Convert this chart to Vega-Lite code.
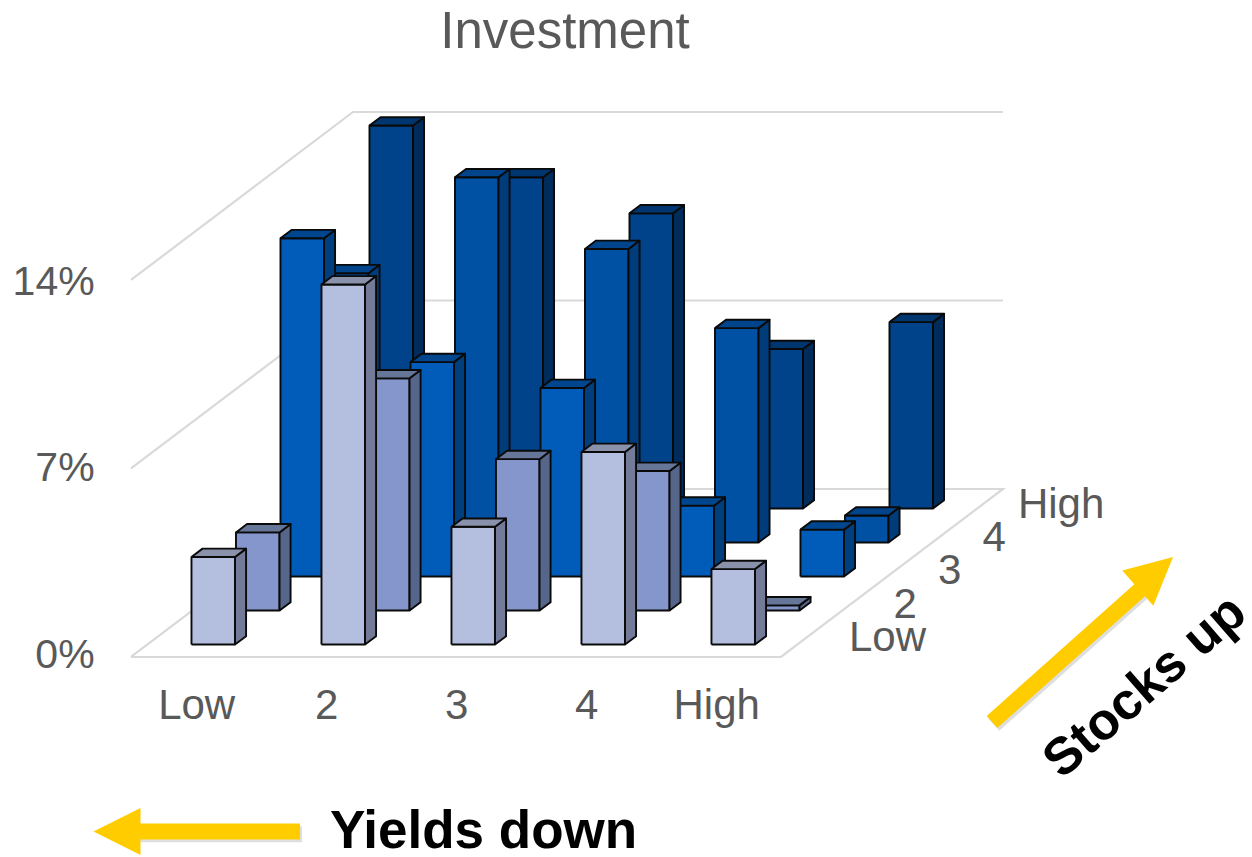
{
  "$schema": "https://vega.github.io/schema/vega-lite/v6.json",
  "width": 1252,
  "height": 857,
  "autosize": {"type": "none"},
  "padding": 0,
  "background": "white",
  "config": {"view": {"stroke": null}},
  "datasets": {
    "returns": [
      {"yields": "Low", "stocks": "High", "value": 14.22},
      {"yields": "2", "stocks": "High", "value": 12.3},
      {"yields": "3", "stocks": "High", "value": 10.96},
      {"yields": "4", "stocks": "High", "value": 5.92},
      {"yields": "High", "stocks": "High", "value": 6.92},
      {"yields": "Low", "stocks": "4", "value": 10.0},
      {"yields": "2", "stocks": "4", "value": 13.56},
      {"yields": "3", "stocks": "4", "value": 10.9},
      {"yields": "4", "stocks": "4", "value": 7.96},
      {"yields": "High", "stocks": "4", "value": 1.0},
      {"yields": "Low", "stocks": "3", "value": 12.56},
      {"yields": "2", "stocks": "3", "value": 7.96},
      {"yields": "3", "stocks": "3", "value": 7.0},
      {"yields": "4", "stocks": "3", "value": 2.63},
      {"yields": "High", "stocks": "3", "value": 1.74},
      {"yields": "Low", "stocks": "2", "value": 2.9},
      {"yields": "2", "stocks": "2", "value": 8.62},
      {"yields": "3", "stocks": "2", "value": 5.62},
      {"yields": "4", "stocks": "2", "value": 5.18},
      {"yields": "High", "stocks": "2", "value": 0.19},
      {"yields": "Low", "stocks": "Low", "value": 3.25},
      {"yields": "2", "stocks": "Low", "value": 13.37},
      {"yields": "3", "stocks": "Low", "value": 4.37},
      {"yields": "4", "stocks": "Low", "value": 7.15},
      {"yields": "High", "stocks": "Low", "value": 2.8}
    ],
    "levels": [{"level": 0}, {"level": 7}, {"level": 14}],
    "valueTicks": [
      {"label": "0%", "value": 0},
      {"label": "7%", "value": 7},
      {"label": "14%", "value": 14}
    ],
    "yieldTicks": [
      {"label": "Low"}, {"label": "2"}, {"label": "3"}, {"label": "4"}, {"label": "High"}
    ],
    "stockTicks": [
      {"label": "Low"}, {"label": "2"}, {"label": "3"}, {"label": "4"}
    ]
  },
  "encoding": {
    "x": {"field": "px", "type": "quantitative", "axis": null, "scale": {"domain": [-1.473, 8.158], "nice": false, "zero": false}},
    "y": {"field": "py", "type": "quantitative", "axis": null, "scale": {"domain": [-7.891, 23.932], "nice": false, "zero": false}}
  },
  "layer": [
    {
      "data": {"name": "levels"},
      "transform": [
        {"calculate": "datum.level === 0 ? [{s:0,t:0,i:0},{s:1,t:0,i:1},{s:1,t:1,i:2},{s:0,t:1,i:3},{s:0,t:0,i:4}] : [{s:0,t:0,i:0},{s:0,t:1,i:1},{s:1,t:1,i:2}]", "as": "pts"},
        {"flatten": ["pts"]},
        {"calculate": "-0.4654 + datum.pts.t * 1.7077 + datum.pts.s * 5", "as": "px"},
        {"calculate": "datum.level - 0.464 + datum.pts.t * 6.238", "as": "py"},
        {"calculate": "datum.pts.i", "as": "seq"}
      ],
      "mark": {"type": "line", "stroke": "#d9d9d9", "strokeWidth": 2.2, "interpolate": "linear"},
      "encoding": {
        "detail": {"field": "level", "type": "nominal"},
        "order": {"field": "seq", "type": "quantitative"}
      }
    },
    {
      "data": {"name": "returns"},
      "transform": [
        {"calculate": "indexof(['Low','2','3','4','High'], datum.yields)", "as": "col"},
        {"calculate": "indexof(['Low','2','3','4','High'], datum.stocks)", "as": "row"},
        {"calculate": "[{f:'front',i:0,u:0,d:0,h:0},{f:'front',i:1,u:1,d:0,h:0},{f:'front',i:2,u:1,d:0,h:1},{f:'front',i:3,u:0,d:0,h:1},{f:'front',i:4,u:0,d:0,h:0},{f:'side',i:0,u:1,d:0,h:0},{f:'side',i:1,u:1,d:1,h:0},{f:'side',i:2,u:1,d:1,h:1},{f:'side',i:3,u:1,d:0,h:1},{f:'side',i:4,u:1,d:0,h:0},{f:'top',i:0,u:0,d:0,h:1},{f:'top',i:1,u:1,d:0,h:1},{f:'top',i:2,u:1,d:1,h:1},{f:'top',i:3,u:0,d:1,h:1},{f:'top',i:4,u:0,d:0,h:1}]", "as": "pts"},
        {"flatten": ["pts"]},
        {"calculate": "datum.col + datum.row * 0.3423 + datum.pts.u * 0.335 + datum.pts.d * 0.085", "as": "px"},
        {"calculate": "datum.row * 1.2626 + datum.pts.d * 0.31 + datum.pts.h * datum.value", "as": "py"},
        {"calculate": "datum.stocks + ' ' + datum.pts.f", "as": "shade"},
        {"calculate": "datum.stocks + '/' + datum.yields + '/' + datum.pts.f", "as": "face"},
        {"calculate": "datum.pts.i", "as": "seq"}
      ],
      "mark": {"type": "line", "stroke": "#0a0a0a", "strokeWidth": 1.9, "strokeJoin": "round", "interpolate": "linear"},
      "encoding": {
        "detail": {"field": "face", "type": "nominal"},
        "order": {"field": "seq", "type": "quantitative"},
        "fill": {
          "field": "shade",
          "type": "nominal",
          "legend": null,
          "scale": {
            "domain": ["Low front", "Low side", "Low top", "2 front", "2 side", "2 top", "3 front", "3 side", "3 top", "4 front", "4 side", "4 top", "High front", "High side", "High top"],
            "range": ["#b4bfdf", "#737b98", "#8a92ab", "#8496cc", "#56658a", "#667699", "#005cb8", "#003f7e", "#00468f", "#0050a3", "#003c7a", "#00458c", "#00438a", "#002c5c", "#00366f"]
          }
        }
      }
    },
    {
      "data": {"name": "valueTicks"},
      "transform": [
        {"calculate": "-0.745", "as": "px"},
        {"calculate": "datum.value * 0.99 - 0.42", "as": "py"}
      ],
      "mark": {"type": "text", "align": "right", "baseline": "middle", "font": "Liberation Sans", "fontSize": 41, "fill": "#595959"},
      "encoding": {"text": {"field": "label"}}
    },
    {
      "data": {"name": "yieldTicks"},
      "transform": [
        {"calculate": "indexof(['Low','2','3','4','High'], datum.label) + 0.04", "as": "px"},
        {"calculate": "-2.3", "as": "py"}
      ],
      "mark": {"type": "text", "align": "center", "baseline": "middle", "font": "Liberation Sans", "fontSize": 42, "fill": "#595959"},
      "encoding": {"text": {"field": "label"}}
    },
    {
      "data": {"name": "stockTicks"},
      "transform": [
        {"calculate": "5.058 + indexof(['Low','2','3','4','High'], datum.label) * 0.3423", "as": "px"},
        {"calculate": "0.24 + indexof(['Low','2','3','4','High'], datum.label) * 1.244", "as": "py"}
      ],
      "mark": {"type": "text", "align": "left", "baseline": "middle", "font": "Liberation Sans", "fontSize": 42, "fill": "#595959"},
      "encoding": {"text": {"field": "label"}}
    },
    {
      "data": {"values": [{"label": "High"}]},
      "transform": [
        {"calculate": "6.357", "as": "px"},
        {"calculate": "5.19", "as": "py"}
      ],
      "mark": {"type": "text", "align": "left", "baseline": "middle", "font": "Liberation Sans", "fontSize": 42, "fill": "#595959"},
      "encoding": {"text": {"field": "label"}}
    },
    {
      "data": {"values": [{"label": "Investment"}]},
      "transform": [
        {"calculate": "2.873", "as": "px"},
        {"calculate": "22.72", "as": "py"}
      ],
      "mark": {"type": "text", "align": "center", "baseline": "middle", "font": "Liberation Sans", "fontSize": 51, "fill": "#595959"},
      "encoding": {"text": {"field": "label"}}
    },
    {
      "data": {"values": [{"arrow": "Yields down shadow"}]},
      "transform": [
        {"calculate": "0.85", "as": "px"},
        {"calculate": "-0.42", "as": "px2"},
        {"calculate": "-7.05", "as": "py"},
        {"calculate": "-7.05", "as": "py2"}
      ],
      "mark": {"type": "rule", "stroke": "#000000", "strokeOpacity": 0.13, "strokeWidth": 16},
      "encoding": {"x2": {"field": "px2"}, "y2": {"field": "py2"}}
    },
    {
      "data": {"values": [{"arrow": "Yields down"}]},
      "transform": [
        {"calculate": "0.835", "as": "px"},
        {"calculate": "-0.435", "as": "px2"},
        {"calculate": "-6.944", "as": "py"},
        {"calculate": "-6.944", "as": "py2"}
      ],
      "mark": {"type": "rule", "stroke": "#ffcc00", "strokeWidth": 16},
      "encoding": {"x2": {"field": "px2"}, "y2": {"field": "py2"}}
    },
    {
      "data": {"values": [{"arrow": "Yields down"}]},
      "transform": [
        {"calculate": "-0.573", "as": "px"},
        {"calculate": "-6.944", "as": "py"}
      ],
      "mark": {"type": "point", "filled": true, "fill": "#ffcc00", "opacity": 1, "strokeWidth": 0, "shape": "M-1,0L1,-1L1,1Z", "size": 2209}
    },
    {
      "data": {"values": [{"arrow": "Stocks up shadow"}]},
      "transform": [
        {"calculate": "6.173", "as": "px"},
        {"calculate": "7.311", "as": "px2"},
        {"calculate": "-2.985", "as": "py"},
        {"calculate": "1.917", "as": "py2"}
      ],
      "mark": {"type": "rule", "stroke": "#000000", "strokeOpacity": 0.13, "strokeWidth": 16},
      "encoding": {"x2": {"field": "px2"}, "y2": {"field": "py2"}}
    },
    {
      "data": {"values": [{"arrow": "Stocks up"}]},
      "transform": [
        {"calculate": "6.158", "as": "px"},
        {"calculate": "7.296", "as": "px2"},
        {"calculate": "-2.878", "as": "py"},
        {"calculate": "2.024", "as": "py2"}
      ],
      "mark": {"type": "rule", "stroke": "#ffcc00", "strokeWidth": 16},
      "encoding": {"x2": {"field": "px2"}, "y2": {"field": "py2"}}
    },
    {
      "data": {"values": [{"arrow": "Stocks up"}]},
      "transform": [
        {"calculate": "7.415", "as": "px"},
        {"calculate": "2.674", "as": "py"}
      ],
      "mark": {"type": "point", "filled": true, "fill": "#ffcc00", "opacity": 1, "strokeWidth": 0, "shape": "M-1,0L1,-1L1,1Z", "size": 2209, "angle": 138.6}
    },
    {
      "data": {"values": [{"label": "Yields down"}]},
      "transform": [
        {"calculate": "1.065", "as": "px"},
        {"calculate": "-6.97", "as": "py"}
      ],
      "mark": {"type": "text", "align": "left", "baseline": "middle", "font": "Liberation Sans", "fontWeight": "bold", "fontSize": 53, "fill": "#000000"},
      "encoding": {"text": {"field": "label"}}
    },
    {
      "data": {"values": [{"label": "Stocks up"}]},
      "transform": [
        {"calculate": "7.335", "as": "px"},
        {"calculate": "-1.56", "as": "py"}
      ],
      "mark": {"type": "text", "align": "center", "baseline": "middle", "font": "Liberation Sans", "fontWeight": "bold", "fontSize": 52, "fill": "#000000", "angle": 319},
      "encoding": {"text": {"field": "label"}}
    }
  ]
}
